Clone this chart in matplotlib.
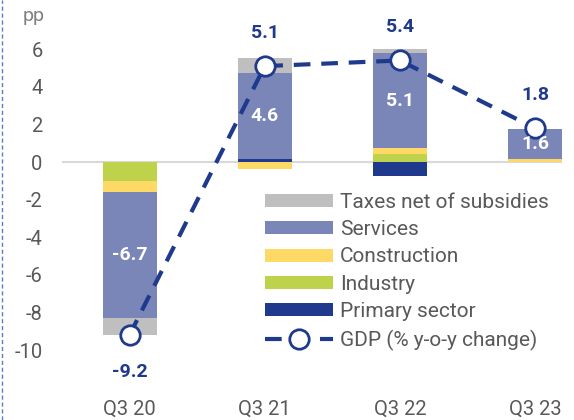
import numpy as np
import matplotlib.pyplot as plt
from matplotlib.lines import Line2D

plt.rcParams['font.family'] = ['Roboto', 'DejaVu Sans']
plt.rcParams['axes.unicode_minus'] = False

quarters = ['Q3 20', 'Q3 21', 'Q3 22', 'Q3 23']
primary = [0.0, 0.15, -0.73, 0.0]
industry = [-1.0, 0.0, 0.45, 0.0]
construction = [-0.6, -0.35, 0.27, 0.15]
services = [-6.7, 4.6, 5.1, 1.6]
taxes = [-0.9, 0.8, 0.2, 0.0]
gdp = [-9.2, 5.1, 5.4, 1.8]

series = [('Primary sector', primary, '#1F3A8C'),
          ('Industry', industry, '#BED34B'),
          ('Construction', construction, '#FFD966'),
          ('Services', services, '#7A85B8'),
          ('Taxes net of subsidies', taxes, '#BFBFBF')]

grey = '#595959'
navy = '#1F3A8C'

fig = plt.figure(figsize=(5.74, 4.2), dpi=100)
ax = fig.add_axes([62/574, (420-397)/420, 500/574, (397-30.4)/420])

x = np.arange(len(quarters))
pos = np.zeros(len(x))
neg = np.zeros(len(x))
handles = {}
for name, vals, col in series:
    v = np.array(vals)
    bottom = np.where(v >= 0, pos, neg)
    handles[name] = ax.bar(x, v, 0.4, bottom=bottom, color=col, linewidth=0, zorder=2)
    pos = pos + np.where(v >= 0, v, 0)
    neg = neg + np.where(v < 0, v, 0)

# services labels inside bars
for i in range(len(x)):
    if services[i] >= 0:
        yc = pos[i] - taxes[i] - services[i] / 2
    else:
        yc = industry[i] + construction[i] + services[i] / 2
    ax.text(x[i], yc, f'{services[i]:.1f}', color='white', fontsize=14,
            fontweight='bold', ha='center', va='center', zorder=4)

gdp_line, = ax.plot(x, gdp, color=navy, lw=3, ls=(0, (4, 2.6)), marker='o',
                    markersize=14, markerfacecolor='white', markeredgecolor=navy,
                    markeredgewidth=2, zorder=3)

for i, g in enumerate(gdp):
    off = 24 if g > 0 else -27
    ax.annotate(f'{g:.1f}', (x[i], g), xytext=(0, off), textcoords='offset points',
                ha='center', va='center', fontsize=14, fontweight='bold', color=navy)

ax.axhline(0, color='#D9D9D9', lw=1.5, zorder=1)
ax.set_xlim(-0.5, 3.2)
ax.set_ylim(-12.5, 7)
ax.set_yticks(range(-10, 7, 2))
ax.set_xticks(x)
ax.set_xticklabels(quarters)
ax.tick_params(length=0, labelsize=14.5, labelcolor=grey)
ax.tick_params(axis='y', pad=14)
ax.tick_params(axis='x', pad=2)
for s in ax.spines.values():
    s.set_visible(False)

fig.text(34/574, 1 - 16/420, 'pp', color='#7F7F7F', fontsize=14, ha='center', va='center')

order = ['Taxes net of subsidies', 'Services', 'Construction', 'Industry', 'Primary sector']
leg = ax.legend([handles[n] for n in order] + [gdp_line],
                order + ['GDP (% y-o-y change)'],
                loc='upper left', bbox_to_anchor=(246/574, 1 - 174/420),
                bbox_transform=fig.transFigure, frameon=False, fontsize=15,
                handlelength=3.27, handleheight=0.58, handletextpad=0.34,
                labelspacing=0.4, labelcolor=grey, numpoints=1)

fig.add_artist(Line2D([2/574, 2/574], [0, 1], transform=fig.transFigure,
                      color='#5B7BC8', lw=1, ls=(0, (3, 2))))

fig.savefig('out.png', dpi=100)
